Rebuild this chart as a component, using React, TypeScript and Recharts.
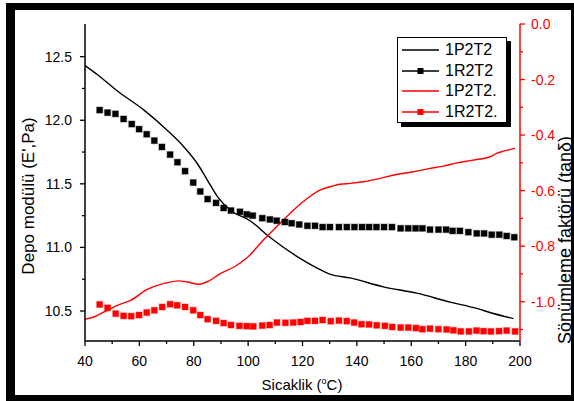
import React from 'react';
import { LineChart, Line, XAxis, YAxis } from 'recharts';

// Temperatures (°C) and values
const p2Temps = [40, 44.5, 51.9, 61.7, 70.3, 76.4, 81.3, 85.0, 88.7, 93.6, 100.7, 108.0, 117.9, 125.2, 130.1, 137.5, 149.7, 162.0, 174.3, 184.1, 190.2, 197.6];
const p2Modulus = [12.43, 12.36, 12.23, 12.08, 11.92, 11.79, 11.66, 11.53, 11.4, 11.29, 11.21, 11.08, 10.93, 10.84, 10.79, 10.76, 10.69, 10.64, 10.57, 10.52, 10.48, 10.44];

const r2Temps = [45.4, 48.3, 51.2, 54.2, 57.2, 59.9, 62.7, 65.5, 68.3, 71.3, 74.0, 76.8, 79.8, 82.4, 85.1, 88.2, 91.0, 93.7, 97.0, 99.5, 101.7, 105.2, 108.0, 110.5, 113.5, 116.0, 118.8, 121.8, 124.6, 127.4, 130.1, 133.4, 136.3, 139.1, 141.9, 144.5, 147.2, 150.0, 152.9, 156.1, 158.9, 161.6, 164.1, 166.9, 170.0, 172.8, 175.2, 177.9, 181.0, 184.1, 186.8, 189.6, 192.4, 195.1, 197.9];
const r2Modulus = [12.08, 12.06, 12.05, 12.01, 11.97, 11.93, 11.89, 11.84, 11.79, 11.73, 11.67, 11.6, 11.51, 11.44, 11.38, 11.35, 11.31, 11.29, 11.28, 11.26, 11.25, 11.23, 11.22, 11.21, 11.2, 11.19, 11.18, 11.17, 11.17, 11.16, 11.16, 11.16, 11.16, 11.16, 11.16, 11.16, 11.16, 11.16, 11.16, 11.15, 11.15, 11.15, 11.15, 11.14, 11.14, 11.14, 11.13, 11.13, 11.12, 11.11, 11.11, 11.1, 11.1, 11.09, 11.08];

const p2tTemps = [40, 43.3, 47.0, 51.9, 56.8, 62.9, 69.1, 74.6, 77.6, 81.9, 85.6, 89.9, 94.8, 99.7, 105.6, 111.7, 119.1, 126.4, 130.1, 133.8, 137.5, 142.4, 148.5, 154.6, 160.8, 166.9, 171.8, 176.7, 182.8, 189.0, 191.4, 193.9, 198.2];
const p2tTan = [-1.063, -1.055, -1.037, -1.013, -0.995, -0.956, -0.934, -0.925, -0.929, -0.937, -0.925, -0.898, -0.875, -0.841, -0.778, -0.718, -0.649, -0.598, -0.586, -0.577, -0.574, -0.568, -0.556, -0.542, -0.532, -0.52, -0.512, -0.5, -0.49, -0.478, -0.466, -0.458, -0.448];

const r2tTemps = [45.4, 48.3, 51.3, 54.2, 57.0, 59.9, 62.7, 65.5, 68.4, 71.3, 73.9, 76.8, 79.8, 82.4, 85.1, 88.2, 91.0, 93.7, 96.8, 99.5, 101.9, 105.2, 107.9, 110.6, 113.7, 116.6, 119.3, 121.8, 124.6, 127.4, 130.4, 133.4, 136.3, 139.0, 141.7, 144.5, 147.3, 150.3, 153.0, 156.1, 158.9, 161.7, 164.1, 166.9, 170.0, 173.0, 175.5, 178.2, 181.2, 184.0, 186.6, 189.3, 192.3, 195.1, 198.2];
const r2tTan = [-1.01, -1.022, -1.043, -1.051, -1.052, -1.048, -1.039, -1.031, -1.019, -1.009, -1.013, -1.019, -1.031, -1.048, -1.063, -1.069, -1.077, -1.084, -1.087, -1.088, -1.089, -1.086, -1.084, -1.075, -1.076, -1.075, -1.073, -1.069, -1.069, -1.066, -1.07, -1.068, -1.07, -1.075, -1.081, -1.082, -1.085, -1.087, -1.091, -1.093, -1.093, -1.095, -1.099, -1.097, -1.099, -1.1, -1.103, -1.107, -1.107, -1.104, -1.106, -1.107, -1.106, -1.104, -1.107];

const xTicks = [40, 50, 60, 70, 80, 90, 100, 110, 120, 130, 140, 150, 160, 170, 180, 190, 200];
const modulusTicks = [10.5, 10.75, 11, 11.25, 11.5, 11.75, 12, 12.25, 12.5];
const tanTicks = [-1.1, -1.0, -0.9, -0.8, -0.7, -0.6, -0.5, -0.4, -0.3, -0.2, -0.1, 0];
const seriesNames = ['1P2T2', '1R2T2', '1P2T2.', '1R2T2.'];

const FONT = '"Liberation Sans", Arial, Helvetica, sans-serif';
const RED = '#ff0000';

const toPoints = (temps: number[], values: number[]) => temps.map((t, i) => ({ t, v: values[i] }));

const p2Data = toPoints(p2Temps, p2Modulus);
const r2Data = toPoints(r2Temps, r2Modulus);
const p2tData = toPoints(p2tTemps, p2tTan);
const r2tData = toPoints(r2tTemps, r2tTan);

const legendItems = [
  { name: seriesNames[0], color: '#000', marker: false },
  { name: seriesNames[1], color: '#000', marker: true },
  { name: seriesNames[2], color: RED, marker: false },
  { name: seriesNames[3], color: RED, marker: true },
];

const squareDot = (color: string) => (props: any) => {
  const { cx, cy, index } = props;
  if (cx == null || cy == null) return <g key={index} />;
  return (
    <rect key={index} x={cx - 3} y={cy - 3} width={6} height={6} fill={color} stroke={color} strokeOpacity={0.35} strokeWidth={1.2} />
  );
};

const BottomTick = (props: any) => {
  const { x, y, payload } = props;
  const major = payload.value % 20 === 0;
  return (
    <g>
      <line x1={x} x2={x} y1={y} y2={y + (major ? 5 : 3)} stroke="#000" strokeWidth={1.3} />
      {major && (
        <text x={x} y={y + 25} textAnchor="middle" fontSize={14} fontFamily={FONT} fill="#000">
          {payload.value}
        </text>
      )}
    </g>
  );
};

const TopTick = (props: any) => {
  const { x, y, payload } = props;
  const major = payload.value % 20 === 0;
  return <line x1={x} x2={x} y1={y} y2={y + (major ? 6 : 3)} stroke="#000" strokeWidth={1.3} />;
};

const LeftTick = (props: any) => {
  const { x, y, payload } = props;
  const major = Math.abs(payload.value * 2 - Math.round(payload.value * 2)) < 1e-6;
  return (
    <g>
      <line x1={x - (major ? 5 : 3)} x2={x} y1={y} y2={y} stroke="#000" strokeWidth={1.3} />
      {major && (
        <text x={x - 13} y={y + 5} textAnchor="end" fontSize={14} fontFamily={FONT} fill="#000">
          {payload.value.toFixed(1)}
        </text>
      )}
    </g>
  );
};

const RightTick = (props: any) => {
  const { x, y, payload } = props;
  const major = Math.round(payload.value * 10) % 2 === 0;
  return (
    <g>
      <line x1={x} x2={x + (major ? 5 : 3)} y1={y} y2={y} stroke={RED} strokeWidth={1.3} />
      {major && (
        <text x={x + 11} y={y + 5} textAnchor="start" fontSize={14} fontFamily={FONT} fill={RED}>
          {payload.value.toFixed(1)}
        </text>
      )}
    </g>
  );
};

export default function App() {
  return (
    <div style={{ position: 'absolute', left: 0, top: 0, width: 574, height: 401, background: '#fff', overflow: 'hidden' }}>
      <LineChart width={574} height={401} margin={{ top: 24, right: 4, left: 25, bottom: 30 }}>
        <XAxis
          xAxisId="bottom"
          dataKey="t"
          type="number"
          domain={[40, 200]}
          allowDataOverflow
          ticks={xTicks}
          interval={0}
          height={30}
          tickSize={0}
          tickMargin={0}
          tickLine={false}
          axisLine={{ stroke: '#000', strokeWidth: 1.5 }}
          tick={<BottomTick />}
        />
        <XAxis
          xAxisId="top"
          orientation="top"
          dataKey="t"
          type="number"
          domain={[40, 200]}
          allowDataOverflow
          ticks={xTicks}
          interval={0}
          height={0}
          tickSize={0}
          tickMargin={0}
          tickLine={false}
          axisLine={{ stroke: '#000', strokeWidth: 1.5 }}
          tick={<TopTick />}
        />
        <YAxis
          yAxisId="left"
          type="number"
          domain={[10.264, 12.757]}
          allowDataOverflow
          ticks={modulusTicks}
          interval={0}
          width={60}
          tickSize={0}
          tickMargin={0}
          tickLine={false}
          axisLine={{ stroke: '#000', strokeWidth: 1.5 }}
          tick={<LeftTick />}
        />
        <YAxis
          yAxisId="right"
          orientation="right"
          type="number"
          domain={[-1.1415, 0]}
          allowDataOverflow
          ticks={tanTicks}
          interval={0}
          width={50}
          tickSize={0}
          tickMargin={0}
          tickLine={false}
          axisLine={{ stroke: RED, strokeWidth: 1.5 }}
          tick={<RightTick />}
        />
        <Line xAxisId="bottom" yAxisId="left" data={p2Data} dataKey="v" name={seriesNames[0]} type="monotone" stroke="#000" strokeWidth={1.4} dot={false} isAnimationActive={false} />
        <Line xAxisId="bottom" yAxisId="left" data={r2Data} dataKey="v" name={seriesNames[1]} type="linear" stroke="none" dot={squareDot('#000')} isAnimationActive={false} />
        <Line xAxisId="bottom" yAxisId="right" data={p2tData} dataKey="v" name={seriesNames[2]} type="monotone" stroke={RED} strokeWidth={1.4} dot={false} isAnimationActive={false} />
        <Line xAxisId="bottom" yAxisId="right" data={r2tData} dataKey="v" name={seriesNames[3]} type="linear" stroke="none" dot={squareDot(RED)} isAnimationActive={false} />
      </LineChart>

      {/* axis titles */}
      <svg width={574} height={401} style={{ position: 'absolute', left: 0, top: 0, pointerEvents: 'none' }}>
        <text x={302} y={390} textAnchor="middle" fontSize={15} fontFamily={FONT} fill="#000">
          <tspan>Sicaklik (</tspan>
          <tspan dy={-6} fontSize={9}>o</tspan>
          <tspan dy={6}>C)</tspan>
        </text>
        <text transform="translate(34, 196) rotate(-90)" textAnchor="middle" fontSize={17} fontFamily={FONT} fill="#000">
          Depo modülü (E',Pa)
        </text>
        <text transform="translate(571, 240) rotate(-90)" textAnchor="middle" fontSize={18} fontFamily={FONT} fill="#000">
          Sönümleme faktörü (tanδ)
        </text>
      </svg>

      {/* legend */}
      <div
        style={{
          position: 'absolute', left: 397, top: 37, width: 110, height: 86, boxSizing: 'border-box',
          border: '1px solid #000', boxShadow: '4px 4px 0 #000', background: '#fff', paddingTop: 2,
          fontFamily: FONT, fontSize: 16,
        }}
      >
        {legendItems.map((item) => (
          <div key={item.name} style={{ height: 20.5, display: 'flex', alignItems: 'center' }}>
            <svg width={38} height={20} style={{ marginLeft: 4, marginRight: 5 }}>
              <line x1={0} x2={37} y1={10} y2={10} stroke={item.color} strokeWidth={1.3} />
              {item.marker && <rect x={15.5} y={7} width={6} height={6} fill={item.color} />}
            </svg>
            <span style={{ color: '#000', lineHeight: '20px' }}>{item.name}</span>
          </div>
        ))}
      </div>

      {/* outer frame */}
      <div style={{ position: 'absolute', left: 6, top: 3, width: 568, height: 7, background: '#000' }} />
      <div style={{ position: 'absolute', left: 6, top: 3, width: 9, height: 398, background: '#000' }} />
      <div style={{ position: 'absolute', left: 6, top: 395, width: 568, height: 6, background: '#000' }} />
      <div style={{ position: 'absolute', left: 571, top: 3, width: 3, height: 398, background: '#000' }} />
    </div>
  );
}
